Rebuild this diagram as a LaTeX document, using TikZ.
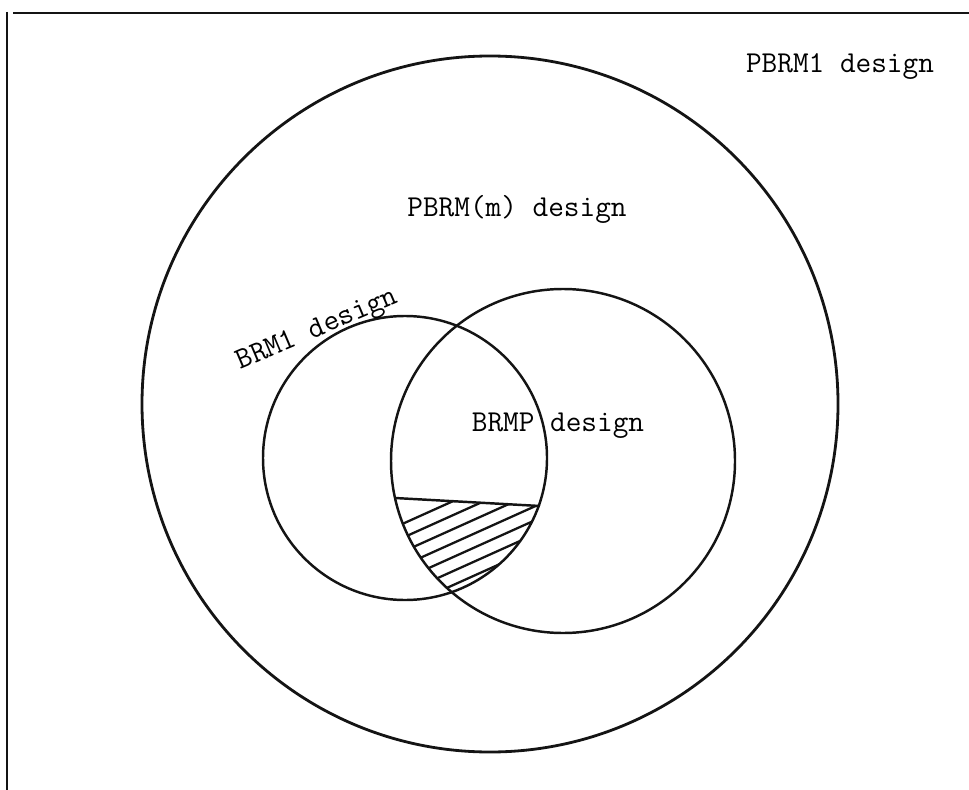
\documentclass[tikz,border=0pt]{standalone}
\usepackage{fontspec}
\usepackage{tikz}
\definecolor{figline}{RGB}{20,20,20}
\tikzset{
  frm/.style   ={draw=figline, line width=1.1pt},
  outer/.style ={draw=figline, line width=1.6pt},
  ring/.style  ={draw=figline, line width=1.4pt},
  hatch/.style ={draw=figline, line width=1.3pt},
  lab/.style   ={font=\fontsize{17.3}{20}\selectfont\ttfamily, inner sep=0pt},
}
\begin{document}
\begin{tikzpicture}[x=0.02cm,y=-0.02cm]
  \useasboundingbox (0,0) rectangle (969,790);
  % frame
  \draw[frm] (13,13) -- (969,13);
  \draw[frm] (7,12) -- (7,790);
  % circles
  \draw[outer] (490,404) circle[radius=348];
  \draw[ring] (405,458) circle[radius=142];
  \draw[ring] (563,461) circle[radius=172];
  % hatched part
  \begin{scope}
    \clip (405,458) circle[radius=142];
    \clip (563,461) circle[radius=172];
    \clip (380,497) -- (560,508) -- (560,620) -- (380,620) -- cycle;
    \foreach \y in {525,539,...,609}
      \draw[hatch] (380,\y+9) -- (560,\y-72);
  \end{scope}
  \draw[ring] (395,498) -- (540,506);
  % labels
  \node[lab,anchor=base] (pbrmone) at (840,73) {PBRM1 design};
  \node[lab,anchor=base] (pbrmm) at (517,217) {PBRM(m) design};
  \node[lab,anchor=base] (brmp) at (558,431) {BRMP design};
  \node[lab,anchor=base,rotate=23] (brmone) at (320,336) {BRM1 design};
\end{tikzpicture}
\end{document}
